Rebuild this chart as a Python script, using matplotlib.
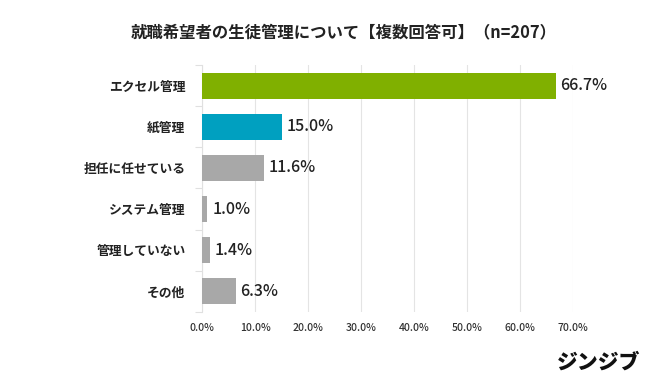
import matplotlib
matplotlib.use("Agg")
import matplotlib.pyplot as plt
import numpy as np

plt.rcParams['font.family'] = ['Noto Sans CJK JP', 'DejaVu Sans']

categories = ["エクセル管理", "紙管理", "担任に任せている", "システム管理", "管理していない", "その他"]
values = [66.7, 15.0, 11.6, 1.0, 1.4, 6.3]
colors = ["#80b000", "#00a0c0", "#a8a8a8", "#a8a8a8", "#a8a8a8", "#a8a8a8"]
xticks = [0, 10, 20, 30, 40, 50, 60, 70]
title = "就職希望者の生徒管理について【複数回答可】（n=207）"

fig = plt.figure(figsize=(6.5, 3.8), dpi=100)
ax = fig.add_axes([0.311, 0.179, 0.571, 0.650])

y = np.arange(len(categories))
ax.barh(y, values, height=0.63, color=colors, zorder=3)
ax.set_ylim(len(categories) - 0.5, -0.5)
ax.set_xlim(0, 70)

for yi, v in zip(y, values):
    ax.text(v + 0.9, yi, f"{v:.1f}%", va="center", ha="left", fontsize=11.5,
            fontweight="medium", color="#222222", zorder=4)

ax.set_xticks(xticks)
ax.set_xticklabels([f"{t:.1f}%" for t in xticks], fontsize=7.5, fontweight="medium", color="#333333")
ax.tick_params(axis="x", length=0, pad=8)
ax.set_yticks(y)
ax.set_yticklabels(categories, fontsize=9.2, fontweight="bold", color="#222222")
ax.tick_params(axis="y", which="major", length=0, pad=12)
ax.set_yticks(np.arange(-0.5, len(categories)), minor=True)
ax.tick_params(axis="y", which="minor", length=5, color="#e0e0e0", width=0.8)

ax.grid(axis="x", color="#e4e4e4", linewidth=0.8, zorder=0)
for s in ["top", "right", "bottom"]:
    ax.spines[s].set_visible(False)
ax.spines["left"].set_color("#e0e0e0")
ax.spines["left"].set_linewidth(0.8)

fig.text(0.528, 0.915, title, ha="center", va="center", fontsize=11.8, fontweight="bold", color="#222222")
fig.text(0.985, 0.045, "ジンジブ", ha="right", va="center", fontsize=15, fontweight="black", color="#111111")

fig.savefig("out.png", dpi=100)
